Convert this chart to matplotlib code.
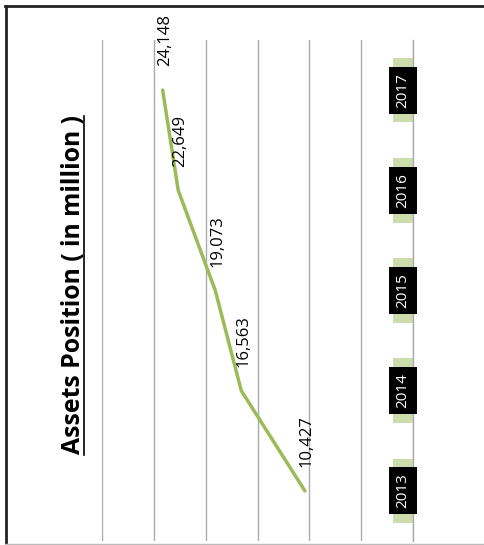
import matplotlib
matplotlib.use("Agg")
import matplotlib.pyplot as plt
from matplotlib.patches import Rectangle
from matplotlib.lines import Line2D
import matplotlib.transforms as mtransforms

years = ["2013", "2014", "2015", "2016", "2017"]
assets = [10427, 16563, 19073, 22649, 24148]
value_labels = ["10,427", "16,563", "19,073", "22,649", "24,148"]
title = "Assets Position ( in million )"

plt.rcParams['font.family'] = ['Open Sans', 'DejaVu Sans']

W, H = 484, 545
fig = plt.figure(figsize=(W / 100, H / 100), dpi=100)
ax = fig.add_axes([102 / W, 1 - 541 / H, 311 / W, 501 / H])

pos = list(range(len(years)))
ax.plot(assets, pos, color='#9bbb59', lw=2.5, solid_capstyle='round', zorder=3)
for v, p, lab in zip(assets, pos, value_labels):
    ax.annotate(lab, (v, p), xytext=(1.5, 17), textcoords='offset points',
                rotation=90, ha='center', va='bottom', fontsize=12, color='black')

ax.set_xlim(30000, 0)
ax.set_ylim(-0.5, 4.5)
ax.set_xticks(range(0, 30001, 5000))
ax.grid(axis='x', color='#aaaaaa', lw=1)
ax.set_axisbelow(True)
ax.tick_params(left=False, bottom=False, right=False, top=False,
               labelleft=False, labelbottom=False)
for s in ['left', 'top', 'bottom']:
    ax.spines[s].set_visible(False)
ax.spines['right'].set_color('#aaaaaa')
ax.spines['right'].set_linewidth(1)

trans = mtransforms.blended_transform_factory(ax.transAxes, ax.transData)
for p, y in zip(pos, years):
    ax.add_patch(Rectangle((0.936, p - 0.322), 0.064, 0.644, transform=trans,
                           facecolor='#cddcac', edgecolor='none', zorder=2, clip_on=False))
    ax.text(0.968, p, y, transform=trans, rotation=90, ha='center', va='center',
            color='white', fontsize=11, zorder=4,
            bbox=dict(boxstyle='square,pad=0.4', facecolor='black', edgecolor='none'))

t = fig.text(74 / W, 1 - 285 / H, title, rotation=90, ha='center', va='center',
             fontsize=15, fontweight='bold', color='black')
fig.canvas.draw()
bb = t.get_window_extent()
t.set_fontsize(15 * 340.0 / bb.height)

# frame
fig.add_artist(Line2D([6 / W, 6 / W], [1 - 6 / H, 1 - 543 / H], transform=fig.transFigure,
                      color='#222222', lw=2))
fig.add_artist(Line2D([5 / W, 1.0], [1 - 6 / H, 1 - 6 / H], transform=fig.transFigure,
                      color='#222222', lw=2))
fig.add_artist(Line2D([5 / W, 1.0], [1 - 543.5 / H, 1 - 543.5 / H], transform=fig.transFigure,
                      color='#bbbbbb', lw=1))

fig.canvas.draw()
bb = t.get_window_extent()
ux = (bb.x1 - 2.5) / W
fig.add_artist(Line2D([ux, ux], [bb.y0 / H, bb.y1 / H], transform=fig.transFigure,
                      color='black', lw=1.2))

fig.savefig("out.png", dpi=100)
